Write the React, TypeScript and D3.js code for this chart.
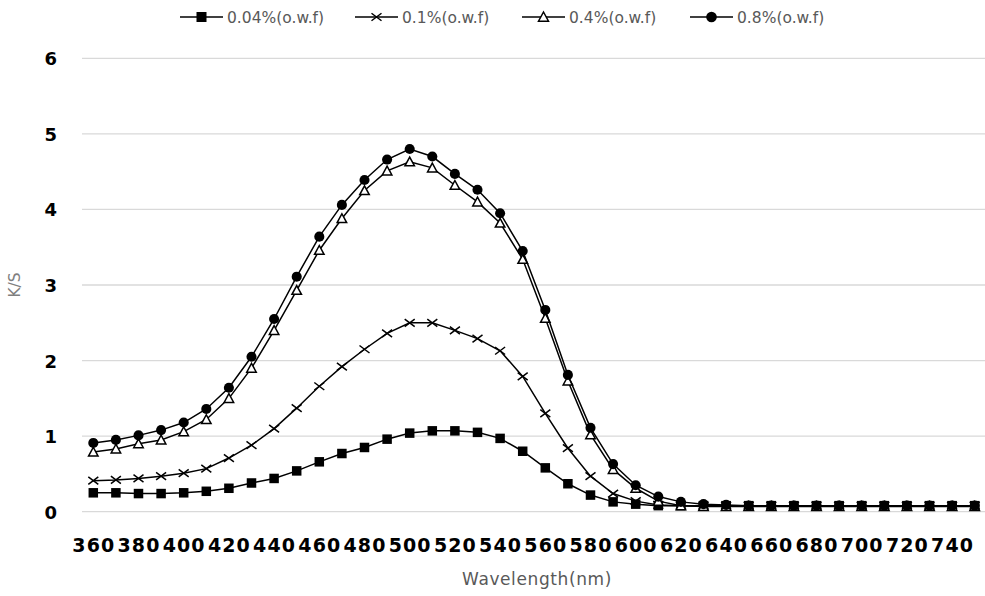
import React from "react";
import * as d3 from "d3";

const wavelengths = [360,370,380,390,400,410,420,430,440,450,460,470,480,490,500,510,520,530,540,550,560,570,580,590,600,610,620,630,640,650,660,670,680,690,700,710,720,730,740,750];
const tickLabels = [360,380,400,420,440,460,480,500,520,540,560,580,600,620,640,660,680,700,720,740];
const yTicks = [0,1,2,3,4,5,6];

const s004 = [0.25,0.25,0.24,0.24,0.25,0.27,0.31,0.38,0.44,0.54,0.66,0.77,0.85,0.96,1.04,1.07,1.07,1.05,0.97,0.80,0.58,0.37,0.22,0.13,0.10,0.08,0.08,0.08,0.08,0.08,0.08,0.08,0.08,0.08,0.08,0.08,0.08,0.08,0.08,0.08];
const s01 = [0.41,0.42,0.44,0.47,0.51,0.57,0.71,0.88,1.10,1.37,1.66,1.92,2.15,2.36,2.50,2.50,2.40,2.29,2.13,1.79,1.30,0.84,0.47,0.24,0.14,0.09,0.08,0.08,0.08,0.08,0.08,0.08,0.08,0.08,0.08,0.08,0.08,0.08,0.08,0.08];
const s04 = [0.79,0.83,0.90,0.95,1.06,1.22,1.50,1.90,2.40,2.93,3.46,3.88,4.25,4.51,4.63,4.55,4.32,4.10,3.82,3.34,2.56,1.73,1.02,0.56,0.31,0.14,0.08,0.07,0.07,0.07,0.07,0.07,0.07,0.07,0.07,0.07,0.07,0.07,0.07,0.07];
const s08 = [0.91,0.95,1.01,1.08,1.18,1.36,1.64,2.05,2.55,3.11,3.64,4.06,4.39,4.66,4.80,4.70,4.47,4.26,3.95,3.45,2.67,1.81,1.11,0.63,0.35,0.20,0.13,0.10,0.09,0.08,0.08,0.08,0.08,0.08,0.08,0.08,0.08,0.08,0.08,0.08];

const seriesNames = ["0.04%(o.w.f)", "0.1%(o.w.f)", "0.4%(o.w.f)", "0.8%(o.w.f)"];
const seriesMarkers = ["square", "x", "triangle", "circle"];
const seriesValues = [s004, s01, s04, s08];

const W = 985, H = 596;
const left = 82, right = 986, top = 58.3, bottom = 511.7;

function Marker({ type, x, y, s }: { type: string; x: number; y: number; s: number }) {
  const h = s / 2;
  if (type === "square") return <rect x={x - h} y={y - h} width={s} height={s} fill="#000" />;
  if (type === "circle") return <circle cx={x} cy={y} r={h + 0.3} fill="#000" />;
  if (type === "triangle")
    return <path d={`M${x},${y - h}L${x + h},${y + h * 0.85}L${x - h},${y + h * 0.85}Z`} fill="#fff" stroke="#000" strokeWidth={1.5} />;
  return <path d={`M${x - h},${y - h * 0.75}L${x + h},${y + h * 0.75}M${x - h},${y + h * 0.75}L${x + h},${y - h * 0.75}`} stroke="#000" strokeWidth={1.5} fill="none" />;
}

export default function App() {
  const x = d3.scaleBand<number>().domain(wavelengths).range([left, right]).padding(0);
  const y = d3.scaleLinear().domain([0, 6]).range([bottom, top]);
  const cx = (w: number) => (x(w) as number) + x.bandwidth() / 2;
  const line = d3.line<number>().x((_, i) => cx(wavelengths[i])).y((v) => y(v));
  const legendX = [180, 355, 522, 690];

  return (
    <svg width={W} height={H} style={{ position: "absolute", left: 0, top: 0, background: "#fff" }}>
      <rect width={W} height={H} fill="#fff" />
      {yTicks.map((t) => (
        <line key={t} x1={left} x2={right} y1={y(t)} y2={y(t)} stroke="#d9d9d9" strokeWidth={1.3} />
      ))}
      {yTicks.map((t) => (
        <text key={"yl" + t} x={57} y={y(t) + 7} textAnchor="end" fontFamily="DejaVu Sans" fontWeight="bold" fontSize={18} fill="#000">{t}</text>
      ))}
      {tickLabels.map((t) => (
        <text key={"xl" + t} x={cx(t) + 0.5} y={552} textAnchor="middle" fontFamily="DejaVu Sans" fontWeight="bold" fontSize={19} letterSpacing={1.1} fill="#000">{t}</text>
      ))}
      <text x={537} y={585} textAnchor="middle" fontFamily="DejaVu Sans" fontSize={17} letterSpacing={0.6} fill="#595959">Wavelength(nm)</text>
      <text transform={`translate(20,285) rotate(-90)`} textAnchor="middle" fontFamily="DejaVu Sans" fontSize={15.5} fill="#7f7f7f">K/S</text>
      {seriesValues.map((vals, si) => (
        <g key={"s" + si}>
          <path d={line(vals) || ""} fill="none" stroke="#000" strokeWidth={1.5} />
          {vals.map((v, i) => (
            <Marker key={i} type={seriesMarkers[si]} x={cx(wavelengths[i])} y={y(v)} s={si === 1 ? 10 : 9.5} />
          ))}
        </g>
      ))}
      {seriesNames.map((n, si) => (
        <g key={"lg" + si}>
          <line x1={legendX[si]} x2={legendX[si] + 43} y1={17} y2={17} stroke="#000" strokeWidth={1.5} />
          <Marker type={seriesMarkers[si]} x={legendX[si] + 21.5} y={17} s={10} />
          <text x={legendX[si] + 47} y={22.5} fontFamily="DejaVu Sans" fontSize={15.5} fill="#595959">{n}</text>
        </g>
      ))}
    </svg>
  );
}
